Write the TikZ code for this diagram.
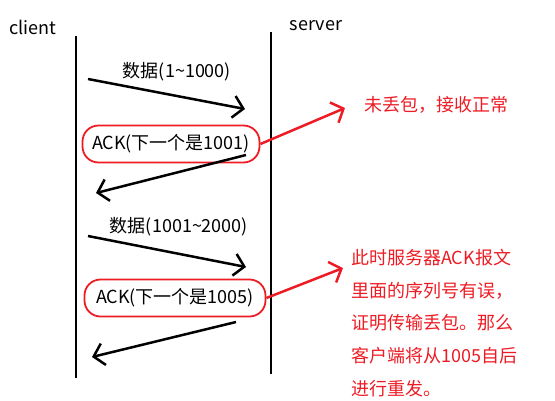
\documentclass[tikz,border=0pt]{standalone}
\usepackage{fontspec}
\setmainfont{Noto Sans CJK SC}
\usepackage{tikz}
\usetikzlibrary{positioning,arrows.meta}
\definecolor{penred}{RGB}{237,28,36}
\begin{document}
\begin{tikzpicture}[x=1pt,y=-1pt]
            \tikzstyle{lifeline}=[line width=2.7pt]
            \tikzstyle{msg}=[line width=2.5pt,-{Straight Barb[length=10pt,width=22pt]}]
            \tikzstyle{pointer}=[draw=penred,line width=2.5pt,-{Straight Barb[length=10pt,width=22pt]}]
            \tikzstyle{msgtext}=[inner sep=0pt,font=\fontsize{18}{21}\selectfont]
            \tikzstyle{ackbox}=[draw=penred,line width=1.8pt,rounded corners=16pt,minimum height=37pt,inner sep=1pt,font=\fontsize{18}{21}\selectfont]
            \tikzstyle{notetext}=[text=penred,inner sep=0pt,align=left,font=\fontsize{18}{32.75}\selectfont]

            \useasboundingbox (0,0) rectangle (555,400);

            \node[msgtext] (client) at (33,27) {client};
            \node[msgtext] (server) at (316,26) {server};
            \coordinate (ctop) at (76,36);
            \coordinate (cbot) at (76,378);
            \coordinate (stop) at (271,32);
            \coordinate (sbot) at (271,374);
            \draw[lifeline] (ctop) -- (cbot);
            \draw[lifeline] (stop) -- (sbot);

            \coordinate (d1s) at (88,79);
            \coordinate (d1e) at (245,109);
            \draw[msg] (d1s) -- (d1e);
            \node[msgtext] (data1) at (177,72) {数据(1\textasciitilde1000)};

            \node[ackbox,minimum width=177pt] (ack1) at (171,144) {ACK(下一个是1001)};
            \coordinate (a1s) at (246,155);
            \coordinate (a1e) at (96,193);
            \draw[msg] (a1s) -- (a1e);

            \coordinate (d2s) at (88,236);
            \coordinate (d2e) at (246,267);
            \draw[msg] (d2s) -- (d2e);
            \node[msgtext] (data2) at (179,227) {数据(1001\textasciitilde2000)};

            \node[ackbox,minimum width=181pt] (ack2) at (175,298) {ACK(下一个是1005)};
            \coordinate (a2s) at (236,322);
            \coordinate (a2e) at (92,357);
            \draw[msg] (a2s) -- (a2e);

            \node[notetext,anchor=west] (note1) at (364,105) {未丢包，接收正常};
            \node[notetext,anchor=west] (note2) at (351,323)
                {此时服务器ACK报文\\里面的序列号有误，\\证明传输丢包。那么\\客户端将从1005自后\\进行重发。};
            \coordinate (tip1) at (345,108);
            \coordinate (tip2) at (343,268);
            \draw[pointer] (ack1.east) -- (tip1);
            \draw[pointer] (ack2.east) -- (tip2);
\end{tikzpicture}
\end{document}
